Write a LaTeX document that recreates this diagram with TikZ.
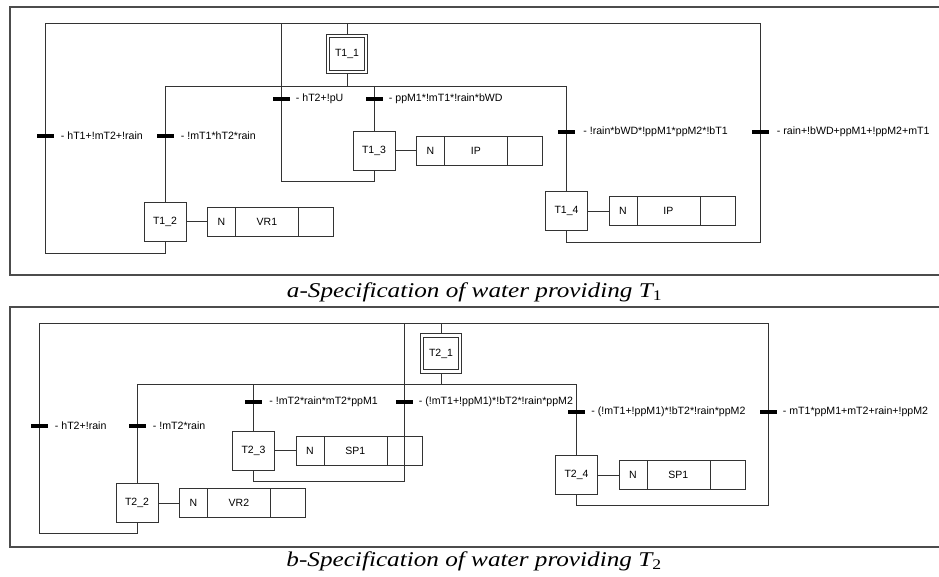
\documentclass[tikz,border=0pt]{standalone}
\usepackage{fontspec}
\setmainfont{Liberation Serif}
\setsansfont{Liberation Sans}
\newfontfamily\capfont[FakeStretch=1.2]{Liberation Serif}
\usetikzlibrary{positioning}

\tikzset{
    link/.style={draw=black!80, line width=0.8pt},
    frame/.style={draw=black!70, line width=1.2pt},
    stepbox/.style={draw=black!80, line width=0.8pt, minimum width=42pt, minimum height=39pt,
        inner sep=0pt, font=\sffamily\fontsize{10.5}{12}\selectfont},
    initbox/.style={stepbox, double, double distance=2.8pt, minimum width=38pt,
        minimum height=36pt, outer sep=2.2pt},
    actcell/.style={draw=black!80, line width=0.8pt, minimum height=29pt, inner sep=0pt,
        outer sep=0pt, font=\sffamily\fontsize{10.5}{12}\selectfont},
    tbar/.style={fill=black, minimum width=17pt, minimum height=4pt, inner sep=0pt},
    guard/.style={inner sep=0pt, font=\sffamily\fontsize{10.6}{12}\selectfont},
    caption/.style={inner sep=0pt, font=\capfont\itshape\fontsize{21}{24}\selectfont}
}

% action box: #1 name, #2 step, #3 action
\newcommand{\actbox}[3]{%
    \node[actcell, minimum width=28pt, right=21pt of #2] (#1n) {N};
    \node[actcell, minimum width=63pt, right=0pt of #1n] (#1a) {#3};
    \node[actcell, minimum width=35pt, right=0pt of #1a] (#1e) {};
    \draw[link] (#2) -- (#1n);
}

\begin{document}
\begin{tikzpicture}[x=1pt, y=-1pt]
    \useasboundingbox (0,0) rectangle (939,577);

    % panel a
    \draw[frame] (939,7) -- (10,7) -- (10,275) -- (939,275);
    \node[initbox] (T11) at (347,54) {T1\_1};
    \node[stepbox] (T12) at (165,221.5) {T1\_2};
    \node[stepbox] (T13) at (374,150.5) {T1\_3};
    \node[stepbox] (T14) at (566.5,211) {T1\_4};
    \actbox{A12}{T12}{VR1}
    \actbox{A13}{T13}{IP}
    \actbox{A14}{T14}{IP}

    \coordinate (aTop) at (0,23);
    \coordinate (aBus) at (0,86);
    \coordinate (aLoop2) at (45,253);
    \coordinate (aLoop3) at (281,181);
    \coordinate (aLoop4) at (760,242);

    \draw[link] (T11) -- (T11 |- aTop);
    \draw[link] (T11) -- (T11 |- aBus);
    \draw[link] (T12 |- aBus) -- (T14 |- aBus);
    \draw[link] (T12 |- aBus) -- (T12);
    \draw[link] (T13 |- aBus) -- (T13);
    \draw[link] (T14 |- aBus) -- (T14);
    \draw[link] (T12.south) |- (aLoop2) -- (aLoop2 |- aTop);
    \draw[link] (T13.south) |- (aLoop3) -- (aLoop3 |- aTop);
    \draw[link] (T14.south) |- (aLoop4) -- (aLoop4 |- aTop);
    \draw[link] (aLoop2 |- aTop) -- (aLoop4 |- aTop);

    \node[tbar] (ta1) at (45,136) {};
    \node[tbar] (ta2) at (165,136) {};
    \node[tbar] (ta3) at (281,99) {};
    \node[tbar] (ta4) at (374,99) {};
    \node[tbar] (ta5) at (566.5,132) {};
    \node[tbar] (ta6) at (760,132) {};
    \node[guard, right=7pt of ta1] (ga1) {- hT1+!mT2+!rain};
    \node[guard, right=7pt of ta2] (ga2) {- !mT1*hT2*rain};
    \node[guard, right=6pt of ta3] (ga3) {- hT2+!pU};
    \node[guard, right=6pt of ta4] (ga4) {- ppM1*!mT1*!rain*bWD};
    \node[guard, right=8pt of ta5] (ga5) {- !rain*bWD*!ppM1*ppM2*!bT1};
    \node[guard, right=8pt of ta6] (ga6) {- rain+!bWD+ppM1+!ppM2+mT1};

    \node[caption, anchor=base] (capA) at (474.5,297) {a-Specification of water providing T\textsubscript{\upshape 1}};

    % panel b
    \draw[frame] (939,307) -- (10,307) -- (10,547) -- (939,547);
    \node[initbox] (T21) at (441,353.5) {T2\_1};
    \node[stepbox] (T22) at (137,503) {T2\_2};
    \node[stepbox] (T23) at (253.5,450.5) {T2\_3};
    \node[stepbox] (T24) at (576.5,475) {T2\_4};
    \actbox{A22}{T22}{VR2}
    \actbox{A23}{T23}{SP1}
    \actbox{A24}{T24}{SP1}

    \coordinate (bTop) at (0,323);
    \coordinate (bBus) at (0,384);
    \coordinate (bLoop2) at (39,533);
    \coordinate (bLoop3) at (404,481);
    \coordinate (bLoop4) at (768,505);

    \draw[link] (T21) -- (T21 |- bTop);
    \draw[link] (T21) -- (T21 |- bBus);
    \draw[link] (T22 |- bBus) -- (T24 |- bBus);
    \draw[link] (T22 |- bBus) -- (T22);
    \draw[link] (T23 |- bBus) -- (T23);
    \draw[link] (T24 |- bBus) -- (T24);
    \draw[link] (T22.south) |- (bLoop2) -- (bLoop2 |- bTop);
    \draw[link] (T23.south) |- (bLoop3) -- (bLoop3 |- bTop);
    \draw[link] (T24.south) |- (bLoop4) -- (bLoop4 |- bTop);
    \draw[link] (bLoop2 |- bTop) -- (bLoop4 |- bTop);

    \node[tbar] (tb1) at (39,426) {};
    \node[tbar] (tb2) at (137,426) {};
    \node[tbar] (tb3) at (253.5,402) {};
    \node[tbar] (tb4) at (404,402) {};
    \node[tbar] (tb5) at (576.5,412) {};
    \node[tbar] (tb6) at (768,412) {};
    \node[guard, right=7pt of tb1] (gb1) {- hT2+!rain};
    \node[guard, right=7pt of tb2] (gb2) {- !mT2*rain};
    \node[guard, right=7pt of tb3] (gb3) {- !mT2*rain*mT2*ppM1};
    \node[guard, right=6pt of tb4] (gb4) {- (!mT1+!ppM1)*!bT2*!rain*ppM2};
    \node[guard, right=6pt of tb5] (gb5) {- (!mT1+!ppM1)*!bT2*!rain*ppM2};
    \node[guard, right=6pt of tb6] (gb6) {- mT1*ppM1+mT2+rain+!ppM2};

    \node[caption, anchor=base] (capB) at (474,566.5) {b-Specification of water providing T\textsubscript{\upshape 2}};
\end{tikzpicture}
\end{document}
